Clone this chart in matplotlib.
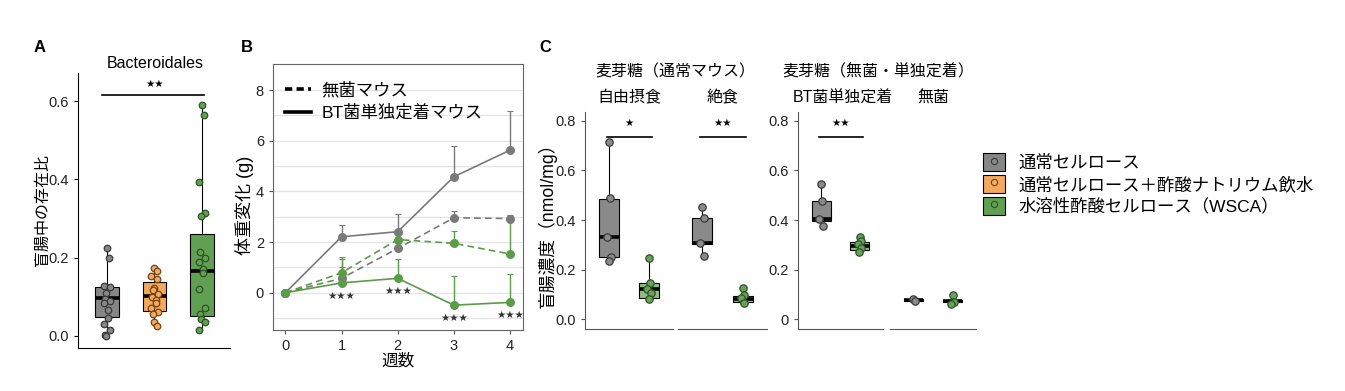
import numpy as np
import matplotlib
matplotlib.use("Agg")
import matplotlib.pyplot as plt
from matplotlib.lines import Line2D
from matplotlib.patches import Patch

plt.rcParams['font.family'] = ['Liberation Sans', 'Noto Sans CJK JP', 'DejaVu Sans']

W, H = 1345, 391

# ─── panel A data ────────────────────────────────────────────────
a_groups = ['通常セルロース', '通常セルロース＋酢酸ナトリウム飲水', '水溶性酢酸セルロース（WSCA）']
a_gray = [0.225, 0.200, 0.128, 0.124, 0.110, 0.095, 0.090, 0.083, 0.067, 0.045, 0.030, 0.014, 0.002, 0.0]
a_orange = [0.174, 0.166, 0.152, 0.146, 0.123, 0.118, 0.108, 0.100, 0.091, 0.084, 0.072, 0.061, 0.057, 0.036, 0.025]
a_green = [0.591, 0.565, 0.393, 0.314, 0.307, 0.214, 0.200, 0.190, 0.172, 0.160, 0.121, 0.072, 0.057, 0.044, 0.036, 0.016]
# box stats: whislo, q1, med, q3, whishi
a_gray_box = [0.0, 0.048, 0.096, 0.124, 0.225]
a_orange_box = [0.025, 0.064, 0.102, 0.138, 0.174]
a_green_box = [0.016, 0.052, 0.166, 0.261, 0.591]

# ─── panel B data ────────────────────────────────────────────────
weeks = [0, 1, 2, 3, 4]
bt_gray = [0.0, 2.21, 2.41, 4.58, 5.63]
bt_gray_err = [0.0, 0.48, 0.68, 1.20, 1.53]
gf_gray = [0.0, 0.57, 1.75, 2.96, 2.93]
gf_gray_err = [0.0, 0.45, 0.45, 0.28, 0.15]
gf_green = [0.0, 0.79, 2.10, 1.95, 1.53]
gf_green_err = [0.0, 0.63, 0.20, 0.47, 1.37]
bt_green = [0.0, 0.39, 0.57, -0.49, -0.38]
bt_green_err = [0.0, 0.94, 0.75, 1.15, 1.14]

# ─── panel C data ────────────────────────────────────────────────
c_facets = ['自由摂食', '絶食', 'BT菌単独定着', '無菌']
c_groups = ['麦芽糖（通常マウス）', '麦芽糖（無菌・単独定着）']
c_gray_pts = [[0.715, 0.487, 0.333, 0.252, 0.235],
              [0.454, 0.407, 0.309, 0.256],
              [0.544, 0.478, 0.405, 0.375],
              [0.082, 0.074]]
c_green_pts = [[0.246, 0.145, 0.121, 0.105, 0.082],
               [0.127, 0.097, 0.084, 0.064],
               [0.333, 0.316, 0.302, 0.289, 0.273],
               [0.097, 0.070, 0.061]]
c_gray_box = [[0.235, 0.252, 0.332, 0.485, 0.715],
              [0.256, 0.302, 0.309, 0.407, 0.454],
              [0.375, 0.398, 0.405, 0.475, 0.544],
              [0.074, 0.074, 0.077, 0.080, 0.082]]
c_green_box = [[0.080, 0.087, 0.122, 0.145, 0.246],
               [0.061, 0.070, 0.080, 0.094, 0.127],
               [0.273, 0.280, 0.296, 0.313, 0.333],
               [0.061, 0.068, 0.072, 0.076, 0.097]]
c_signif = ['*', '**', '**', '']

# ─── colours ─────────────────────────────────────────────────────
GRAY, ORANGE, GREEN = '#868686', '#f4a95f', '#61a052'
GRAY_E, ORANGE_E, GREEN_E = '#3a3a3a', '#6e4418', '#2a5424'
C_GREEN_BOX = '#8fbf7f'
B_GRAY, B_GREEN = '#7a7a7a', '#5a9c48'
TICK_FS = 10.5


def px_axes(x0, y0, x1, y1):
    return fig.add_axes([x0 / W, 1 - y1 / H, (x1 - x0) / W, (y1 - y0) / H])


def ftext(x, y, s, **kw):
    return fig.text(x / W, 1 - y / H, s, **kw)


def stats(v):
    return dict(whislo=v[0], q1=v[1], med=v[2], q3=v[3], whishi=v[4], fliers=[])


def draw_box(ax, pos, box, pts, fill, edge, width, s, jit):
    ax.bxp([stats(box)], positions=[pos], widths=width, patch_artist=True,
           showcaps=False, showfliers=False,
           boxprops=dict(facecolor=fill, edgecolor='black', linewidth=0.8),
           whiskerprops=dict(color='black', linewidth=0.8),
           medianprops=dict(color='black', linewidth=2.6, solid_capstyle='butt'))
    off = jit * np.sin(2.4 * np.arange(len(pts)))
    ax.scatter(pos + off, pts, s=s, color=fill, edgecolors=edge,
               linewidths=0.9, zorder=5)


fig = plt.figure(figsize=(W / 100, H / 100), dpi=100)

# ─── panel A ─────────────────────────────────────────────────────
axA = px_axes(78, 73, 230, 348)
for pos, box, pts, f, e in [(1, a_gray_box, a_gray, GRAY, GRAY_E),
                            (2, a_orange_box, a_orange, ORANGE, ORANGE_E),
                            (3, a_green_box, a_green, GREEN, GREEN_E)]:
    draw_box(axA, pos, box, pts, f, e, 0.5, 22, 0.07)
axA.set_xlim(0.39, 3.59)
axA.set_ylim(-0.031, 0.672)
axA.set_yticks([0.0, 0.2, 0.4, 0.6])
axA.set_yticklabels(['0.0', '0.2', '0.4', '0.6'])
axA.set_xticks([])
for sp in ['top', 'right']:
    axA.spines[sp].set_visible(False)
axA.tick_params(axis='y', labelsize=TICK_FS, length=3, labelcolor='#222')
axA.plot([0.9, 3.05], [0.616, 0.616], color='black', lw=1.2)
axA.text(2.0, 0.630, '★★', ha='center', va='bottom', fontsize=7.5,
         family=['DejaVu Sans'])
ftext(155, 63, 'Bacteroidales', ha='center', va='center', fontsize=11.5)
ftext(42, 210, '盲腸中の存在比', rotation=90, ha='center', va='center', fontsize=11.5)
ftext(40, 48, 'A', ha='center', va='center', fontsize=12, fontweight='bold')

# ─── panel B ─────────────────────────────────────────────────────
axB = px_axes(273, 64, 523, 330)
series = [(bt_gray, bt_gray_err, B_GRAY, '-'),
          (gf_gray, gf_gray_err, B_GRAY, '--'),
          (gf_green, gf_green_err, B_GREEN, '--'),
          (bt_green, bt_green_err, B_GREEN, '-')]
for y, err, c, ls in series:
    axB.errorbar(weeks, y, yerr=[np.zeros(len(err)), err], fmt='none',
                 ecolor=c, elinewidth=1.0, capsize=2, capthick=0.8, zorder=2)
    axB.plot(weeks, y, color=c, ls=ls, lw=1.2, marker='o', ms=6.5,
             markeredgewidth=0, zorder=3, dashes=(4, 2.5) if ls == '--' else (None, None))
for wk, v in zip(weeks[1:], bt_green[1:]):
    axB.text(wk, v - 0.5, '★★★', ha='center', va='center', fontsize=7.5,
             color='#333', family=['DejaVu Sans'])
axB.set_xlim(-0.22, 4.23)
axB.set_ylim(-1.47, 9.03)
axB.set_xticks(weeks)
axB.set_yticks([0, 2, 4, 6, 8])
axB.set_yticks([-1, 1, 3, 5, 7], minor=True)
axB.grid(axis='y', which='both', color='#e4e4e4', lw=0.9)
axB.set_axisbelow(True)
axB.tick_params(which='major', labelsize=TICK_FS, length=3, color='#555', labelcolor='#222')
axB.tick_params(which='minor', length=0)
for sp in axB.spines.values():
    sp.set_color('#666')
leg_handles = [Line2D([], [], color='black', lw=2.6, dashes=(2, 1.2)),
               Line2D([], [], color='black', lw=2.6)]
axB.legend(leg_handles, ['無菌マウス', 'BT菌単独定着マウス'], loc='upper left',
           frameon=False, fontsize=12.5, handlelength=1.5, handletextpad=0.6,
           labelspacing=0.38, borderaxespad=0.3, bbox_to_anchor=(0.0, 0.98))
ftext(398, 361, '週数', ha='center', va='center', fontsize=12)
ftext(245, 205, '体重変化 (g)', rotation=90, ha='center', va='center', fontsize=13)
ftext(247, 48, 'B', ha='center', va='center', fontsize=12, fontweight='bold')

# ─── panel C ─────────────────────────────────────────────────────
facet_px = [(585, 673), (678, 767), (798, 883), (890, 976)]
for i, (x0, x1) in enumerate(facet_px):
    ax = px_axes(x0, 112, x1, 329)
    draw_box(ax, 1, c_gray_box[i], c_gray_pts[i], '#8a8a8a', GRAY_E, 0.5, 28, 0.05)
    draw_box(ax, 2, c_green_box[i], c_green_pts[i], C_GREEN_BOX, GREEN_E, 0.5, 28, 0.05)
    ax.collections[-1].set_facecolor('#6a9f5d')
    ax.set_xlim(0.4, 2.6)
    ax.set_ylim(-0.039, 0.835)
    ax.set_xticks([])
    for sp in ['top', 'right']:
        ax.spines[sp].set_visible(False)
    ax.spines['bottom'].set_color('#555')
    ax.spines['left'].set_color('#555')
    if i in (0, 2):
        ax.set_yticks([0.0, 0.2, 0.4, 0.6, 0.8])
        ax.set_yticklabels(['0.0' if i == 0 else '0', '0.2', '0.4', '0.6', '0.8'])
        ax.tick_params(axis='y', labelsize=TICK_FS, length=3, color='#555', labelcolor='#222')
    else:
        ax.spines['left'].set_visible(False)
        ax.set_yticks([])
    if c_signif[i]:
        ax.plot([0.95, 2.08], [0.735, 0.735], color='black', lw=1.2)
        ax.text(1.5, 0.79, '★' * len(c_signif[i]), ha='center', va='center',
                fontsize=7.5, family=['DejaVu Sans'])
    ftext((x0 + x1) / 2 + (2 if i == 2 else 0), 98, c_facets[i], ha='center',
          va='center', fontsize=11.5)

ftext(675, 72, c_groups[0], ha='center', va='center', fontsize=11.5)
ftext(878, 72, c_groups[1], ha='center', va='center', fontsize=11.5)
ftext(547, 221, '盲腸濃度（nmol/mg）', rotation=90, ha='center', va='center', fontsize=12.8)
ftext(545, 48, 'C', ha='center', va='center', fontsize=12, fontweight='bold')

# ─── shared legend ───────────────────────────────────────────────
fills = [GRAY, ORANGE, GREEN]
edges = [GRAY_E, ORANGE_E, GREEN_E]
handles = [(Patch(facecolor=f, edgecolor='black', linewidth=0.8),
            Line2D([], [], ls='none', marker='o', ms=4.5, color=f,
                   markeredgecolor=e, markeredgewidth=0.8))
           for f, e in zip(fills, edges)]
fig.legend(handles, a_groups, loc='upper left', bbox_to_anchor=(983 / W, 1 - 153 / H),
           frameon=False, fontsize=12.5, handlelength=1.25, handleheight=1.25,
           handletextpad=0.8, labelspacing=0.2, borderpad=0, borderaxespad=0)

fig.savefig('out.png', dpi=100)
